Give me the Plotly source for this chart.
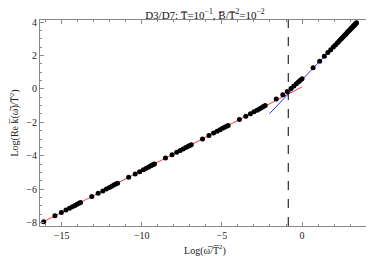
import plotly.graph_objects as go

# Data points
log_w = [
    -16.12, -15.42, -15.02, -14.73, -14.51, -14.33, -14.17, -14.04, -13.92,
    -13.82, -13.12, -12.72, -12.43, -12.21, -12.02, -11.87, -11.74, -11.62,
    -11.51, -10.82, -10.41, -10.13, -9.90, -9.72, -9.57, -9.43, -9.32,
    -9.21, -8.52, -8.11, -7.82, -7.60, -7.42, -7.26, -7.13, -7.01,
    -6.91, -6.21, -5.81, -5.52, -5.30, -5.12, -4.96, -4.83, -4.71,
    -4.61, -3.91, -3.51, -3.22, -3.00, -2.81, -2.66, -2.53, -2.41,
    -2.30, -1.61, -1.20, -0.92, -0.69, -0.51, -0.36, -0.22, -0.11,
    0.00, 0.69, 1.10, 1.39, 1.61, 1.79, 1.95, 2.08, 2.20,
    2.30, 2.40, 2.48, 2.56, 2.64, 2.71, 2.77, 2.83, 2.89, 2.94,
    3.00, 3.04, 3.09, 3.14, 3.18, 3.22, 3.26, 3.30, 3.33, 3.37, 3.40,
]
log_k = [
    -7.94, -7.59, -7.39, -7.25, -7.14, -7.05, -6.97, -6.90, -6.84,
    -6.79, -6.44, -6.24, -6.10, -5.99, -5.89, -5.82, -5.75, -5.69,
    -5.64, -5.29, -5.09, -4.95, -4.83, -4.74, -4.67, -4.60, -4.54,
    -4.49, -4.14, -3.94, -3.79, -3.68, -3.59, -3.51, -3.45, -3.39,
    -3.34, -2.99, -2.79, -2.64, -2.53, -2.44, -2.36, -2.30, -2.24,
    -2.19, -1.83, -1.63, -1.48, -1.37, -1.27, -1.20, -1.13, -1.06,
    -1.00, -0.61, -0.35, -0.15, 0.03, 0.17, 0.30, 0.42, 0.52,
    0.61, 1.26, 1.66, 1.95, 2.17, 2.34, 2.50, 2.63, 2.75,
    2.85, 2.95, 3.03, 3.11, 3.19, 3.26, 3.32, 3.38, 3.44, 3.49,
    3.55, 3.59, 3.64, 3.69, 3.73, 3.77, 3.81, 3.85, 3.88, 3.92, 3.95,
]

# Asymptotic fits
red_x = [-16.3, 0.0]
red_slope, red_icpt = 0.5, 0.12
blue_x = [-2.03, 3.40]
blue_slope, blue_icpt = 1.0, 0.55
crossover_x = -0.86

x_ticks = [-15, -10, -5, 0]
y_ticks = [-8, -6, -4, -2, 0, 2, 4]

serif = "Liberation Serif"

fig = go.Figure()
fig.add_trace(go.Scatter(
    x=red_x, y=[red_slope * v + red_icpt for v in red_x], mode="lines",
    line=dict(color="#ff3b3b", width=1), showlegend=False))
fig.add_trace(go.Scatter(
    x=blue_x, y=[blue_slope * v + blue_icpt for v in blue_x], mode="lines",
    line=dict(color="#2b2bff", width=1), showlegend=False))
fig.add_trace(go.Scatter(
    x=log_w, y=log_k, mode="markers",
    marker=dict(color="black", size=5), showlegend=False))

fig.add_shape(type="line", x0=crossover_x, x1=crossover_x, xref="x",
              y0=0, y1=1, yref="paper",
              line=dict(color="black", width=1, dash="dash"))

axis_common = dict(
    showgrid=False, zeroline=False, showline=True, mirror="allticks",
    linecolor="#888888", linewidth=1, ticks="inside", ticklen=4,
    tickcolor="#888888", tickfont=dict(family=serif, size=10, color="#222"),
)
fig.update_xaxes(
    range=[-16.35, 4.24], tickvals=x_ticks,
    minor=dict(dtick=1, ticks="inside", ticklen=2, tickcolor="#888888"),
    title=dict(text="Log(ω\u0305/T\u0305<sup>2</sup>)",
               font=dict(family=serif, size=10, color="#222"), standoff=6),
    **axis_common)
fig.update_yaxes(
    range=[-8.2, 4.12], tickvals=y_ticks,
    minor=dict(dtick=0.5, ticks="inside", ticklen=2, tickcolor="#888888"),
    title=dict(text="Log(Re k\u0305(ω\u0305)/T\u0305<sup>2</sup>)",
               font=dict(family=serif, size=10, color="#222"), standoff=6),
    **axis_common)

# the page adds an 8 px body margin, so the figure is drawn 8 px smaller
fig.update_layout(
    width=366, height=254,
    margin=dict(l=32, r=4, t=12, b=36),
    paper_bgcolor="white", plot_bgcolor="white",
    title=dict(text="D3/D7: T\u0305=10<sup>−1</sup>, B\u0305/T\u0305<sup>2</sup>=10<sup>−2</sup>",
               x=0.538, xanchor="center", y=0.987, yanchor="top",
               font=dict(family=serif, size=11, color="#111")),
)

fig.write_html("out.html")
